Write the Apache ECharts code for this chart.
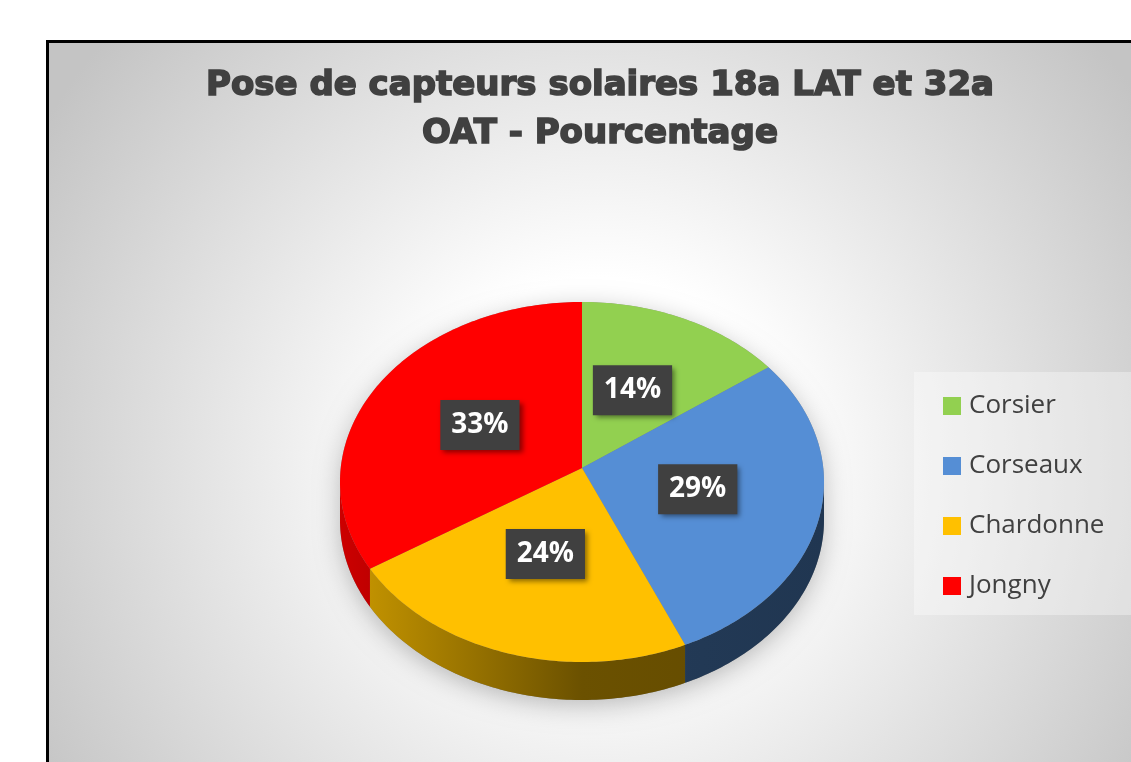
<!DOCTYPE html>
<html>
<head>
<meta charset="utf-8">
<script src="https://cdn.jsdelivr.net/npm/echarts@6/dist/echarts.min.js"></script>
<style>
    html, body { margin: 0; padding: 0; background: #fff; }
    #chart { width: 1131px; height: 762px; }
</style>
</head>
<body>
<div id="chart"></div>
<script>
// données
const cities = ['Corsier', 'Corseaux', 'Chardonne', 'Jongny']
const shares = [14, 29, 24, 33]

const palette = ['#92d050', '#558ed5', '#ffc000', '#ff0000']

// géométrie du camembert 3D (ellipse vue en perspective)
const PIE = { cx: 582, cy: 482, rx: 242, ry: 180, depth: 38, apexY: 468 }

function shade(hex, f) {
    let n = parseInt(hex.slice(1), 16)
    let r = Math.round(((n >> 16) & 255) * f)
    let g = Math.round(((n >> 8) & 255) * f)
    let b = Math.round((n & 255) * f)
    return 'rgb(' + r + ',' + g + ',' + b + ')'
}

function pt(a, dy) {
    return [PIE.cx + PIE.rx * Math.sin(a), PIE.cy - PIE.ry * Math.cos(a) + (dy || 0)]
}

function arc(a0, a1, dy) {
    let pts = []
    let n = Math.max(2, Math.ceil((a1 - a0) / (Math.PI / 180)))
    for (let i = 0; i <= n; i++) {
        pts.push(pt(a0 + (a1 - a0) * i / n, dy))
    }
    return pts
}

function renderSlice(params, api) {
    let idx = params.seriesIndex
    let total = shares.reduce((s, v) => s + v, 0)
    let before = 0
    for (let i = 0; i < idx; i++) before += shares[i]
    let value = api.value(0)
    let a0 = before / total * Math.PI * 2
    let a1 = (before + value) / total * Math.PI * 2
    let color = palette[idx]
    let children = []

    // ombre portée sous le camembert
    if (idx === 0) {
        let back = arc(-Math.PI / 2, Math.PI / 2, 0)
        let front = arc(Math.PI / 2, Math.PI * 1.5, PIE.depth)
        children.push({
            type: 'polygon',
            z2: -10,
            shape: { points: back.concat(front) },
            style: {
                fill: 'rgba(0,0,0,0.35)',
                shadowBlur: 24,
                shadowColor: 'rgba(0,0,0,0.7)',
                shadowOffsetY: 6
            }
        })
    }

    // face latérale (partie visible seulement)
    let s0 = Math.max(a0, Math.PI / 2)
    let s1 = Math.min(a1, Math.PI * 1.5)
    if (s0 < s1) {
        let top = arc(s0, s1, 0)
        let bottom = arc(s0, s1, PIE.depth).reverse()
        children.push({
            type: 'polygon',
            z2: 1,
            shape: { points: top.concat(bottom) },
            style: {
                fill: new echarts.graphic.LinearGradient(PIE.cx - PIE.rx, 0, PIE.cx + PIE.rx, 0, [
                    { offset: 0, color: shade(color, 0.8) },
                    { offset: 0.5, color: shade(color, 0.42) },
                    { offset: 1, color: shade(color, 0.38) }
                ], true)
            }
        })
    }

    // face supérieure
    children.push({
        type: 'polygon',
        z2: 2,
        shape: { points: [[PIE.cx, PIE.apexY]].concat(arc(a0, a1, 0)) },
        style: { fill: color }
    })

    // étiquette
    let mid = (a0 + a1) / 2
    let k = 0.49
    children.push({
        type: 'text',
        z2: 100,
        x: PIE.cx + PIE.rx * k * Math.sin(mid),
        y: 470 - PIE.ry * k * Math.cos(mid),
        style: {
            text: value + '%',
            fill: '#ffffff',
            fontFamily: 'Open Sans',
            fontWeight: 'bold',
            fontSize: 28,
            align: 'center',
            verticalAlign: 'middle',
            backgroundColor: '#404040',
            padding: [12, 11, 10, 11],
            shadowBlur: 5,
            shadowColor: 'rgba(0,0,0,0.45)',
            shadowOffsetX: 3,
            shadowOffsetY: 3
        }
    })

    return { type: 'group', children: children }
}

let chart = echarts.init(document.getElementById('chart'))

let option = {
    backgroundColor: '#ffffff',
    animation: false,
    graphic: [{
        type: 'rect',
        z: -10,
        shape: { x: 47.5, y: 41.5, width: 1200, height: 800 },
        style: {
            fill: new echarts.graphic.RadialGradient(600, 460, 650, [
                { offset: 0, color: '#ffffff' },
                { offset: 0.28, color: '#ffffff' },
                { offset: 1, color: '#c4c4c4' }
            ], true),
            stroke: '#000000',
            lineWidth: 3
        }
    }],
    title: {
        text: 'Pose de capteurs solaires 18a LAT et 32a\nOAT - Pourcentage',
        left: 600,
        top: 62,
        textAlign: 'center',
        padding: 0,
        textStyle: {
            fontFamily: 'DejaVu Sans',
            fontWeight: 'bold',
            fontSize: 34,
            lineHeight: 48,
            color: '#404040',
            textBorderColor: '#404040',
            textBorderWidth: 1.6
        }
    },
    legend: {
        orient: 'vertical',
        left: 914,
        top: 372,
        icon: 'rect',
        itemWidth: 18,
        itemHeight: 18,
        itemGap: 34,
        padding: [21, 60, 16, 29],
        backgroundColor: 'rgba(255,255,255,0.35)',
        selectedMode: false,
        data: cities,
        textStyle: {
            fontFamily: 'Open Sans',
            fontSize: 26,
            color: '#404040',
            padding: [0, 0, 0, 3]
        }
    },
    series: cities.map((name, i) => ({
        type: 'custom',
        name: name,
        coordinateSystem: 'none',
        itemStyle: { color: palette[i] },
        renderItem: renderSlice,
        data: [[shares[i]]]
    }))
}

chart.setOption(option)
</script>
</body>
</html>
